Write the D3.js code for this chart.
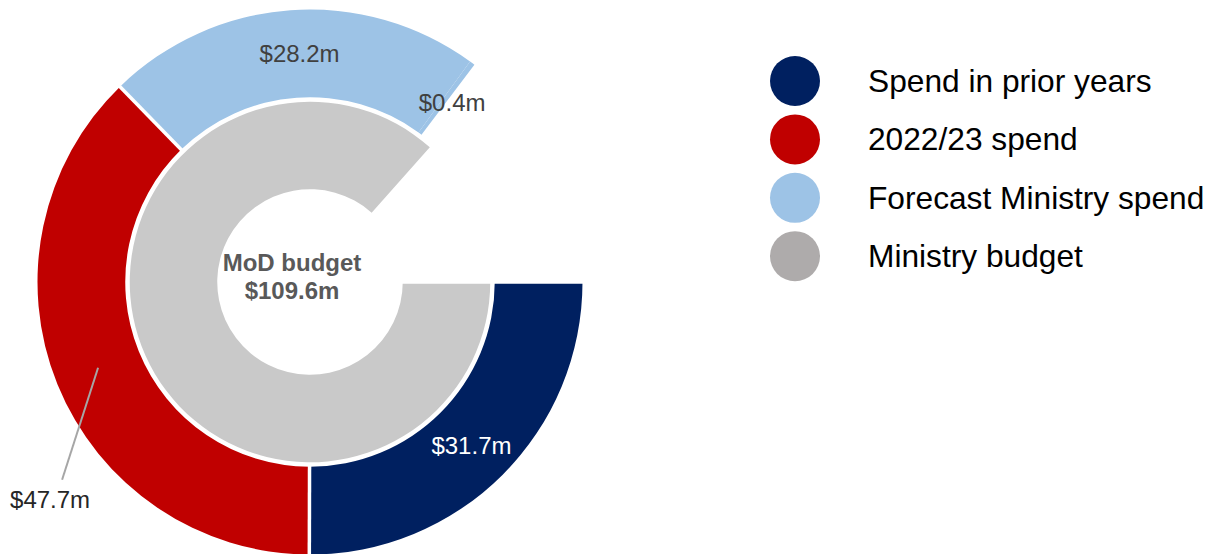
<!DOCTYPE html>
<html>
<head>
<meta charset="utf-8">
<script src="https://cdn.jsdelivr.net/npm/d3@7"></script>
<style>
  body { margin: 0; background: #fff; }
  svg { display: block; font-family: "Liberation Sans", Arial, sans-serif; }
</style>
</head>
<body>
<svg width="1215" height="554"></svg>
<script>
// outer ring: spend pieces ($m)
const outerSeries = ["Spend in prior years", "2022/23 spend", "Forecast Ministry spend", "Forecast Ministry spend"];
const outerValues = [31.7, 47.7, 28.2, 0.4];
const outerLabels = ["$31.7m", "$47.7m", "$28.2m", "$0.4m"];

// inner ring: budget
const innerSeries = ["Ministry budget"];
const innerValues = [109.6];
const centreLines = ["MoD budget", "$109.6m"];

// $m amount that would close the full circle
const fullTurn = 126.6;

const legendNames = ["Spend in prior years", "2022/23 spend", "Forecast Ministry spend", "Ministry budget"];

const ringColour = d3.scaleOrdinal()
  .domain(legendNames)
  .range(["#002060", "#C00000", "#9DC3E6", "#C9C9C9"]);
const legendColour = d3.scaleOrdinal()
  .domain(legendNames)
  .range(["#002060", "#C00000", "#9DC3E6", "#AEABAB"]);

const svg = d3.select("svg");
const cx = 310, cy = 282;

const angle = d3.scaleLinear().domain([0, fullTurn]).range([0, 2 * Math.PI]);
const start = Math.PI / 2;

const pieFor = vals => d3.pie().sort(null).value(d => d)
  .startAngle(start)
  .endAngle(start + angle(d3.sum(vals)));

const g = svg.append("g").attr("transform", `translate(${cx},${cy})`);

// inner ring
const innerArc = d3.arc().innerRadius(92.75).outerRadius(180.25);
const innerData = pieFor(innerValues)(innerValues);
g.selectAll("path.inner")
  .data(innerData)
  .join("path")
  .attr("class", "inner")
  .attr("d", innerArc)
  .attr("fill", (d, i) => ringColour(innerSeries[i]));

// outer ring
const outerArc = d3.arc().innerRadius(184.75).outerRadius(272.5);
const outerData = pieFor(outerValues)(outerValues);
g.selectAll("path.outer")
  .data(outerData)
  .join("path")
  .attr("class", "outer")
  .attr("d", outerArc)
  .attr("fill", (d, i) => ringColour(outerSeries[i]));

// white separators at slice starts (not between the two blue pieces)
const cuts = outerData
  .filter((d, i) => outerSeries[i] !== outerSeries[i - 1])
  .map(d => ({a: d.startAngle, r0: 182, r1: 278}))
  .concat(innerData.map(d => ({a: d.startAngle, r0: 88, r1: 184})));
g.selectAll("line.cut")
  .data(cuts)
  .join("line")
  .attr("class", "cut")
  .attr("x1", c => c.r0 * Math.sin(c.a)).attr("y1", c => -c.r0 * Math.cos(c.a))
  .attr("x2", c => c.r1 * Math.sin(c.a)).attr("y2", c => -c.r1 * Math.cos(c.a))
  .attr("stroke", "#fff")
  .attr("stroke-width", 3.5);

// labels on the outer ring
const labelFill = ["#ffffff", "#262626", "#404040", "#404040"];
const labelShift = [[0, 2], [-48, 132], [6, 0], [6, 4]];

outerData.forEach((d, i) => {
  const c = outerArc.centroid(d);
  if (i === 1) {
    // leader line for the red slice
    g.append("line")
      .attr("x1", c[0]).attr("y1", c[1])
      .attr("x2", c[0] - 36).attr("y2", c[1] + 112)
      .attr("stroke", "#A6A6A6")
      .attr("stroke-width", 2);
  }
  g.append("text")
    .attr("x", c[0] + labelShift[i][0])
    .attr("y", c[1] + labelShift[i][1])
    .attr("text-anchor", "middle")
    .attr("dy", "0.35em")
    .attr("font-size", 24)
    .attr("fill", labelFill[i])
    .text(outerLabels[i]);
});

// centre text
g.selectAll("text.centre")
  .data(centreLines)
  .join("text")
  .attr("class", "centre")
  .attr("x", -18)
  .attr("y", (d, i) => -11 + i * 28)
  .attr("text-anchor", "middle")
  .attr("font-size", 24)
  .attr("font-weight", "bold")
  .attr("fill", "#595959")
  .text(d => d);

// legend
const legend = svg.append("g").attr("transform", "translate(795,81)");
const row = legend.selectAll("g")
  .data(legendNames)
  .join("g")
  .attr("transform", (d, i) => `translate(0,${i * 58.4})`);
row.append("circle")
  .attr("r", 25)
  .attr("fill", d => legendColour(d));
row.append("text")
  .attr("x", 73)
  .attr("y", 11)
  .attr("font-size", 31.7)
  .attr("fill", "#000")
  .text(d => d);
</script>
</body>
</html>
